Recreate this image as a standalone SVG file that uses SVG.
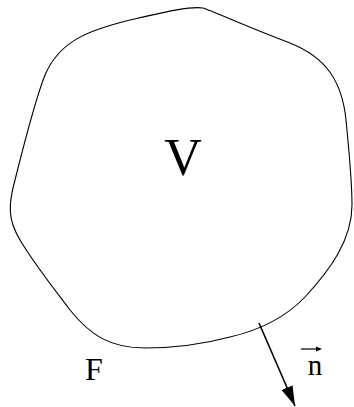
<svg xmlns="http://www.w3.org/2000/svg" width="354" height="407" viewBox="0 0 354 407">
<style>
.outline{fill:none;stroke:#000;stroke-width:1.1}
.lbl{font-family:"Liberation Serif","Times New Roman",serif;fill:#000}
</style>
<defs>
<marker id="ah" markerWidth="20" markerHeight="12" refX="20" refY="6" orient="auto" markerUnits="userSpaceOnUse">
<path d="M0,0 L20,6 L0,12 Z" fill="#000"/>
</marker>
</defs>
<rect width="354" height="407" fill="#fff"/>
<g id="volume">
<path class="outline" d="M 203,8 C 215,12 245,26 290,43 C 325,57 342,80 346,120 C 350,160 352,190 352,205 C 352,240 330,270 305,297 C 285,318 260,330 230,337 C 200,345 170,348 145,348 C 110,348 90,335 70,310 C 55,290 35,265 20,240 C 8,220 8,205 15,180 C 25,140 35,100 45,75 C 60,40 90,30 130,20 C 165,12 190,6 203,8 Z"/>
<text class="lbl" x="183" y="175" font-size="52" text-anchor="middle">V</text>
</g>
<g id="surface">
<text class="lbl" x="94" y="380" font-size="32" text-anchor="middle">F</text>
</g>
<g id="connectors">
<line x1="259" y1="323" x2="295" y2="406" stroke="#000" stroke-width="1.6" marker-end="url(#ah)"/>
</g>
<g id="normal">
<text class="lbl" x="315" y="375" font-size="29" text-anchor="middle">n</text>
<line x1="301" y1="349" x2="318" y2="349" stroke="#000" stroke-width="1.2"/>
<path d="M316,346.5 L322,349 L316,351.5 Z" fill="#000"/>
</g>
</svg>
